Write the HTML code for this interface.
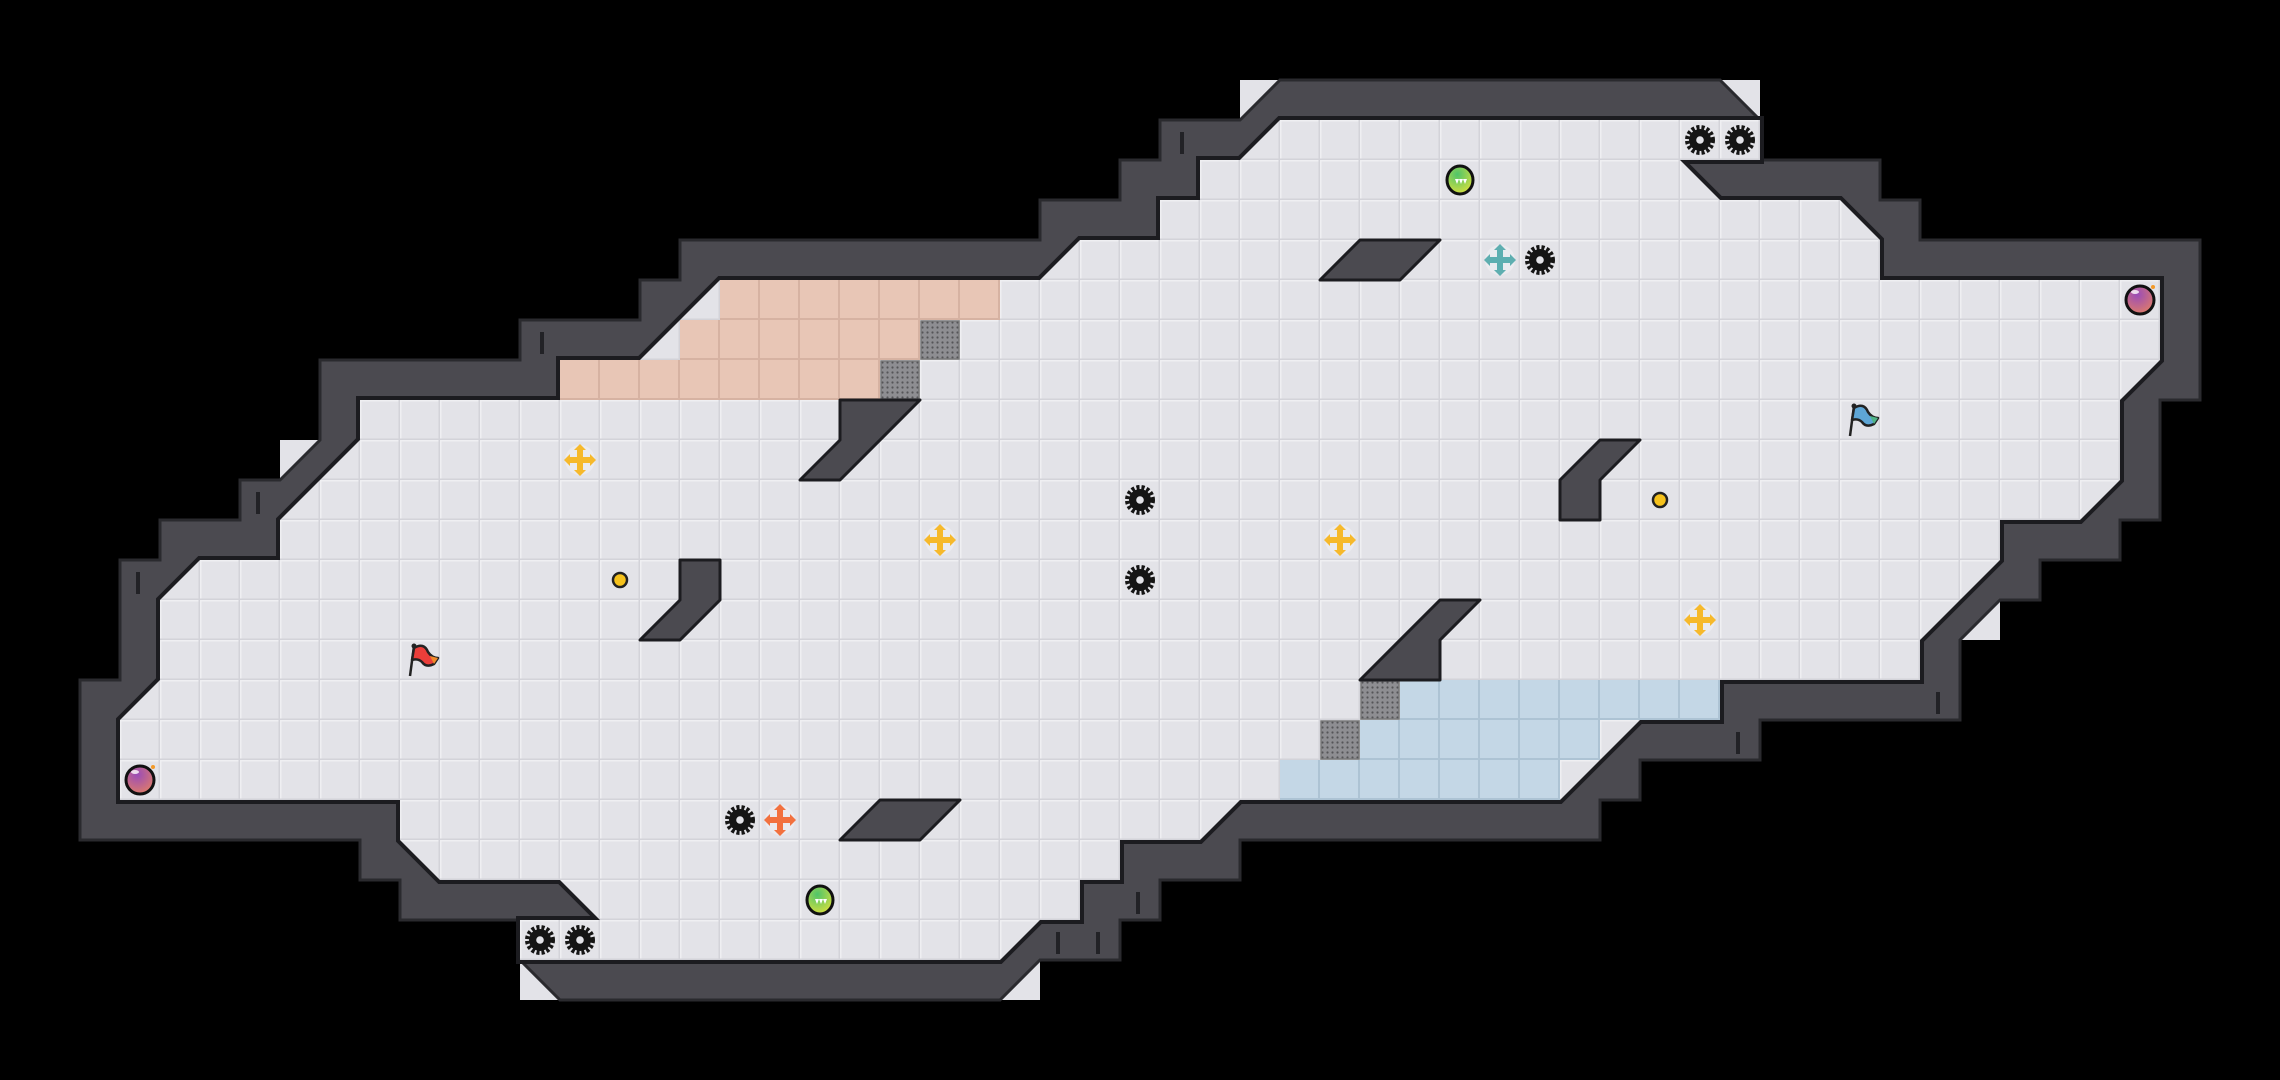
<!DOCTYPE html>
<html><head><meta charset="utf-8"><style>
html,body{margin:0;padding:0;background:#000;}
svg{display:block;}
</style></head><body>
<svg id="s" width="2280" height="1080" viewBox="0 0 2280 1080" xmlns="http://www.w3.org/2000/svg">
<defs>
<pattern id="g" x="80" y="80" width="40" height="40" patternUnits="userSpaceOnUse">
<rect width="40" height="40" fill="#e3e3e8"/>
<rect x="0" y="0" width="40" height="1.5" fill="#efeff2"/>
<rect x="0" y="0" width="1.5" height="40" fill="#efeff2"/>
<rect x="0" y="38.5" width="40" height="1.5" fill="#d3d3d9"/>
<rect x="38.5" y="0" width="1.5" height="40" fill="#d3d3d9"/>
</pattern>
<pattern id="gs" x="80" y="80" width="40" height="40" patternUnits="userSpaceOnUse">
<rect width="40" height="40" fill="#e8c6b6"/>
<rect x="0" y="38" width="40" height="2" fill="#d6b2a2"/>
<rect x="38" y="0" width="2" height="40" fill="#d6b2a2"/>
</pattern>
<pattern id="gb" x="80" y="80" width="40" height="40" patternUnits="userSpaceOnUse">
<rect width="40" height="40" fill="#c4d7e6"/>
<rect x="0" y="38" width="40" height="2" fill="#adc3d4"/>
<rect x="38" y="0" width="2" height="40" fill="#adc3d4"/>
</pattern>
<pattern id="gr" x="0" y="0" width="5" height="5" patternUnits="userSpaceOnUse">
<rect width="5" height="5" fill="#8e8e92"/>
<circle cx="2.5" cy="2.5" r="1.1" fill="#555558"/>
</pattern>
<radialGradient id="gg" cx="0.4" cy="0.3" r="0.8"><stop offset="0" stop-color="#4fc46a"/><stop offset="1" stop-color="#e2e23a"/></radialGradient>
<radialGradient id="pg" cx="0.4" cy="0.3" r="0.8"><stop offset="0" stop-color="#9a4cb8"/><stop offset="1" stop-color="#e58062"/></radialGradient>
<g id="gear"><circle r="11" fill="#151515"/><circle r="12.5" fill="none" stroke="#151515" stroke-width="5" stroke-dasharray="3 2"/><circle r="3.8" fill="#e3e3e8"/></g>
<g id="cross"><circle r="15" fill="#ececf0" opacity="0.8"/><path d="M-3,-10 L-3,-3 L-10,-3 L-10,-6 L-16,0 L-10,6 L-10,3 L-3,3 L-3,10 L-6,10 L0,16 L6,10 L3,10 L3,3 L10,3 L10,6 L16,0 L10,-6 L10,-3 L3,-3 L3,-10 L6,-10 L0,-16 L-6,-10 Z"/></g>
<g id="green"><ellipse rx="13" ry="14" fill="url(#gg)" stroke="#111" stroke-width="3"/><path d="M-7,-1 L7,-1 L5,4 L3,-1 L1,4 L-1,-1 L-3,4 L-5,-1" fill="#fff"/></g>
<g id="pink"><circle r="14" fill="url(#pg)" stroke="#111" stroke-width="3"/><ellipse cx="-5" cy="-8" rx="4" ry="2" fill="#fff" opacity="0.8"/><circle cx="13" cy="-13" r="2" fill="#f39a2a"/></g>
</defs>
<rect width="2280" height="1080" fill="#000"/>
<g id="lt" fill="#e3e3e8"></g>
<polygon id="outer" fill="#4b4a50" stroke="#2a2a2e" stroke-width="3"/>
<polygon id="innerS" fill="none" stroke="#1c1c20" stroke-width="8"/>
<polygon id="inner" fill="url(#g)"/>
<g id="col"></g>
<g id="iw" fill="#4b4a50" stroke="#1c1c20" stroke-width="3" stroke-linejoin="round"></g>
<g id="items"></g>
</svg>
<script>
var C=function(c){return 80+40*c;};
function pts(a){return a.map(function(p){return C(p[0])+","+C(p[1]);}).join(" ");}
var inner=[[30,1],[42,1],[42,2],[40,2],[41,3],[44,3],[45,4],[45,5],[52,5],[52,7],[51,8],[51,10],[50,11],[48,11],[48,12],[46,14],[46,15],[41,15],[41,16],[39,16],[37,18],[29,18],[28,19],[26,19],[26,20],[25,20],[25,21],[24,21],[23,22],[11,22],[11,21],[13,21],[12,20],[9,20],[8,19],[8,18],[1,18],[1,16],[2,15],[2,13],[3,12],[5,12],[5,11],[7,9],[7,8],[12,8],[12,7],[14,7],[15,6],[16,5],[24,5],[25,4],[27,4],[27,3],[28,3],[28,2],[29,2]];
var outer=[[30,0],[41,0],[42,1],[42,2],[45,2],[45,3],[46,3],[46,4],[53,4],[53,8],[52,8],[52,11],[51,11],[51,12],[49,12],[49,13],[48,13],[47,14],[47,16],[42,16],[42,17],[39,17],[39,18],[38,18],[38,19],[29,19],[29,20],[27,20],[27,21],[26,21],[26,22],[24,22],[23,23],[12,23],[11,22],[11,21],[8,21],[8,20],[7,20],[7,19],[0,19],[0,15],[1,15],[1,12],[2,12],[2,11],[4,11],[4,10],[5,10],[6,9],[6,7],[11,7],[11,6],[14,6],[14,5],[15,5],[15,4],[24,4],[24,3],[26,3],[26,2],[27,2],[27,1],[29,1]];
document.getElementById('outer').setAttribute('points',pts(outer));
document.getElementById('inner').setAttribute('points',pts(inner));
document.getElementById('innerS').setAttribute('points',pts(inner));
var ns="http://www.w3.org/2000/svg";
function el(p,t,a){var e=document.createElementNS(ns,t);for(var k in a)e.setAttribute(k,a[k]);p.appendChild(e);return e;}
var lt=document.getElementById('lt');
[[29,0],[41,0],[5,9],[47,13],[11,22],[23,22]].forEach(function(c){el(lt,'rect',{x:C(c[0]),y:C(c[1]),width:40,height:40});});
var col=document.getElementById('col');
function cells(r,a,b,f){for(var c=a;c<=b;c++)el(col,'rect',{x:C(c),y:C(r),width:40,height:40,fill:f});}
cells(5,16,22,'url(#gs)');cells(6,15,20,'url(#gs)');cells(7,12,19,'url(#gs)');
cells(15,33,40,'url(#gb)');cells(16,32,37,'url(#gb)');cells(17,30,36,'url(#gb)');
[[21,6],[20,7],[32,15],[31,16]].forEach(function(c){el(col,'rect',{x:C(c[0])+1,y:C(c[1])+1,width:38,height:38,fill:'url(#gr)',stroke:'#777',"stroke-width":1.5});});
var iw=document.getElementById('iw');
[[[31,5],[32,4],[34,4],[33,5]],
 [[19,8],[21,8],[19,10],[18,10],[19,9]],
 [[15,12],[16,12],[16,13],[15,14],[14,14],[15,13]],
 [[38,9],[39,9],[38,10],[38,11],[37,11],[37,10]],
 [[34,13],[35,13],[34,14],[34,15],[32,15]],
 [[20,18],[22,18],[21,19],[19,19]]].forEach(function(p){el(iw,'polygon',{points:pts(p)});});
var it=document.getElementById('items');
function ctr(c){return [C(c[0])+20,C(c[1])+20];}
function use(id,c,extra){var p=ctr(c);var g=el(it,'use',{href:'#'+id,transform:'translate('+p[0]+','+p[1]+')'});if(extra)for(var k in extra)g.setAttribute(k,extra[k]);return g;}
[[40,1],[41,1],[36,4],[26,10],[26,12],[16,18],[11,21],[12,21]].forEach(function(c){use('gear',c);});
[[12,9],[21,11],[31,11],[40,13]].forEach(function(c){use('cross',c,{fill:'#f6b92b'});});
use('cross',[35,4],{fill:'#5eaeb0'});use('cross',[17,18],{fill:'#f2713f'});
use('green',[34,2]);use('green',[18,20]);
use('pink',[51,5]);use('pink',[1,17]);
function flag(c,f1,f2){var p=ctr(c);var g=el(it,'g',{transform:'translate('+p[0]+','+p[1]+')'});
el(g,'line',{x1:-6,y1:-14,x2:-10,y2:16,stroke:'#222',"stroke-width":2.5});
el(g,'path',{d:'M-6,-12 Q4,-18 8,-8 Q12,-2 18,-2 L14,4 Q6,8 2,2 Q-2,-2 -8,0 Z',fill:f1,stroke:'#222',"stroke-width":2.5,"stroke-linejoin":"round"});
el(g,'path',{d:'M10,-4 L18,-2 L14,4 Z',fill:f2});
el(g,'circle',{cx:-6,cy:-14,r:2.5,fill:'#222'});}
flag([8,14],'#ea3e3a','#f08a2a');flag([44,8],'#5ea6d6','#4fb486');
[[13,12],[39,10]].forEach(function(c){var p=ctr(c);el(it,'circle',{cx:p[0],cy:p[1],r:7,fill:'#f6c21c',stroke:'#222',"stroke-width":2.5});});
var W=[[27.5,1.3],[11.5,6.3],[1.4,12.3],[46.4,15.3],[41.4,16.3],[26.4,20.3],[25.4,21.3],[24.4,21.3],[4.4,10.3]];
W.forEach(function(w){el(it,'rect',{x:C(w[0]),y:C(w[1]),width:4,height:22,fill:'#222226'});});
</script>
</body></html>
